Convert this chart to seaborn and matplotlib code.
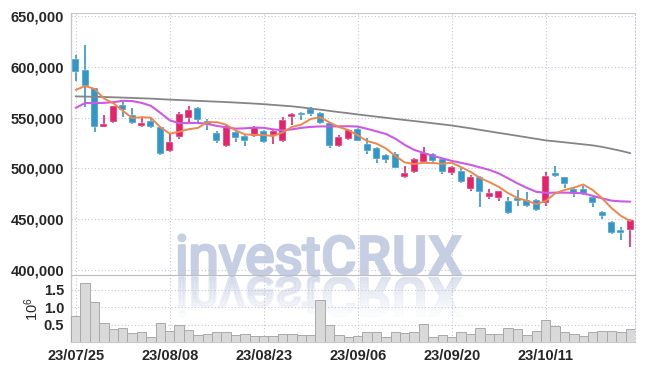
import numpy as np
import pandas as pd
import matplotlib
matplotlib.use("Agg")
import matplotlib.pyplot as plt
import seaborn as sns
from matplotlib.textpath import TextPath
from matplotlib.patches import PathPatch
from matplotlib.path import Path
from matplotlib.font_manager import FontProperties, fontManager
from matplotlib.transforms import Affine2D, IdentityTransform, Bbox
from matplotlib.ticker import FuncFormatter

# ---------------- data ----------------
dates = ["23/07/25", "23/07/26", "23/07/27", "23/07/28", "23/07/31",
         "23/08/01", "23/08/02", "23/08/03", "23/08/04", "23/08/07",
         "23/08/08", "23/08/09", "23/08/10", "23/08/11", "23/08/14",
         "23/08/16", "23/08/17", "23/08/18", "23/08/21", "23/08/22",
         "23/08/23", "23/08/24", "23/08/25", "23/08/28", "23/08/29",
         "23/08/30", "23/08/31", "23/09/01", "23/09/04", "23/09/05",
         "23/09/06", "23/09/07", "23/09/08", "23/09/11", "23/09/12",
         "23/09/13", "23/09/14", "23/09/15", "23/09/18", "23/09/19",
         "23/09/20", "23/09/21", "23/09/22", "23/09/25", "23/09/26",
         "23/09/27", "23/10/04", "23/10/05", "23/10/06", "23/10/10",
         "23/10/11", "23/10/12", "23/10/13", "23/10/16", "23/10/17",
         "23/10/18", "23/10/19", "23/10/20", "23/10/23", "23/10/24"]

open_ = [608000, 597000, 579000, 541000, 546000, 563000, 552500, 542000, 547000, 541000,
         517000, 531000, 550000, 560000, 546500, 535000, 522000, 536000, 532000, 532500,
         537000, 533500, 527500, 550500, 555000, 559000, 555000, 545000, 522000, 529500,
         538500, 524000, 520500, 513000, 514000, 491500, 496500, 506500, 514000, 509000,
         495500, 498000, 479500, 492000, 472000, 470500, 467500, 470500, 468500, 468500,
         465500, 495500, 491500, 480000, 480000, 472000, 457000, 447000, 439000, 439500]
high = [611500, 621500, 579000, 552500, 562000, 568000, 560000, 550000, 550000, 542000,
        535000, 556000, 561500, 561000, 549000, 537000, 543000, 537000, 534500, 542000,
        538000, 539000, 551000, 555000, 556000, 560500, 556000, 546000, 533000, 539000,
        540000, 530000, 521000, 514000, 516000, 502000, 510500, 521000, 515000, 510500,
        502000, 500000, 494000, 493000, 480000, 478000, 472000, 478500, 477000, 470000,
        496500, 502000, 492000, 481000, 483000, 472000, 458000, 448000, 442500, 450000]
low = [586000, 561000, 536000, 540500, 545000, 551000, 544000, 541000, 540000, 513000,
       516000, 529500, 546000, 544000, 537500, 525500, 521000, 526000, 522000, 531000,
       525000, 524000, 526000, 542500, 548000, 552000, 544000, 520500, 521000, 528000,
       527000, 514500, 505500, 505500, 500000, 491000, 495500, 505000, 505000, 495000,
       494000, 486000, 478000, 462000, 469500, 467500, 455000, 463000, 462500, 458000,
       463500, 491500, 481000, 472000, 474000, 462000, 450500, 435000, 429500, 423000]
close = [595000, 581000, 541000, 543500, 561500, 558000, 545000, 545000, 541000, 514500,
         526500, 554000, 557500, 547500, 542500, 527000, 541500, 530000, 527000, 540500,
         526000, 536500, 547500, 554000, 552500, 553500, 545000, 522000, 531500, 537500,
         527500, 517000, 509000, 508000, 500500, 495500, 509000, 515000, 507000, 496500,
         501000, 487000, 492000, 477000, 476000, 477500, 456000, 468000, 463500, 459500,
         493000, 493000, 485000, 475000, 475000, 465500, 453000, 436500, 436500, 449500]
# closes of the four sessions before the window (needed for the 5-day average)
prior_close = [562000, 555000, 590500, 585000]

ma20 = [559800, 564500, 564500, 564700, 565400, 566700, 566500, 564700, 561800, 554900,
        547500, 544700, 544800, 545000, 544000, 542000, 540600, 539300, 539600, 540300,
        540100, 538600, 537600, 538600, 540100, 541000, 541500, 541500, 541500, 541700,
        541300, 539100, 536600, 534100, 529400, 523300, 518400, 515400, 512500, 510000,
        507500, 505600, 503600, 501100, 498600, 495200, 490300, 485300, 480900, 477000,
        476000, 476200, 476200, 476000, 475500, 473000, 470500, 468300, 467600, 467300]
ma120 = [571100, 570900, 570700, 570500, 570200, 569900, 569600, 569200, 568900, 568400,
         567900, 567500, 567100, 566700, 566300, 565900, 565500, 565000, 564500, 564000,
         563400, 562700, 562000, 561300, 560300, 559100, 558000, 556800, 555600, 554500,
         553300, 552200, 551100, 550000, 548900, 547800, 546800, 545700, 544600, 543500,
         542400, 541000, 539600, 538100, 536600, 535100, 533700, 532200, 530700, 529200,
         527700, 526800, 525800, 524800, 523800, 522800, 521300, 519400, 517400, 515100]

volume_m = [0.74, 1.69, 1.16, 0.55, 0.38, 0.41, 0.26, 0.29, 0.15, 0.55,
            0.31, 0.48, 0.34, 0.20, 0.24, 0.28, 0.28, 0.21, 0.23, 0.18,
            0.18, 0.17, 0.23, 0.23, 0.20, 0.20, 1.22, 0.48, 0.20, 0.14,
            0.17, 0.28, 0.28, 0.14, 0.28, 0.25, 0.28, 0.51, 0.14, 0.20,
            0.13, 0.28, 0.23, 0.39, 0.23, 0.23, 0.39, 0.36, 0.20, 0.33,
            0.64, 0.45, 0.28, 0.23, 0.17, 0.30, 0.33, 0.33, 0.28, 0.36]

price_ticks = [400000, 450000, 500000, 550000, 600000, 650000]
vol_ticks = [0.5, 1.0, 1.5]
vol_tick_labels = ["0.5", "1.0", "1.5"]

# ---------------- derived ----------------
n = len(close)
idx = np.arange(n)
ma5 = pd.Series(prior_close + close).rolling(5).mean().to_numpy()[len(prior_close):]
df = pd.DataFrame({"i": idx, "open": open_, "high": high, "low": low, "close": close,
                   "vol": volume_m, "ma5": ma5, "ma20": ma20, "ma120": ma120})

# ---------------- style ----------------
sns.set_style("white")
avail = {f.name for f in fontManager.ttflist}
def pick(*names):
    for nm in names:
        if nm in avail:
            return nm
    return "DejaVu Sans"
LABEL_FONT = pick("Liberation Sans Narrow", "Liberation Sans", "DejaVu Sans")
WM_FONT = pick("Liberation Sans Narrow", "Roboto", "DejaVu Sans")
plt.rcParams["font.family"] = [LABEL_FONT, "DejaVu Sans"]
plt.rcParams["font.weight"] = "bold"

UP = "#e4236b"
DOWN = "#3196c8"
GRID = "#c3c6da"
SPINE = "#c8c8c8"
TXT = "#262626"
FS = 10.5

W, H = 645, 370
fig = plt.figure(figsize=(W / 100, H / 100), dpi=100)
fig.patch.set_facecolor("white")
L, R = 71, 635
ax = fig.add_axes([L / W, 1 - 275 / H, (R - L) / W, (275 - 13) / H])
axv = fig.add_axes([L / W, 1 - 342 / H, (R - L) / W, (342 - 276) / H])
for a in (ax, axv):
    a.set_facecolor("none")

# ---------------- candles ----------------
up = df["close"] >= df["open"]
cols = np.where(up, UP, DOWN)
body_lo = np.minimum(df["open"], df["close"])
body_h = np.maximum(np.abs(df["close"] - df["open"]), 900)
ax.vlines(df["i"], df["low"], df["high"], colors=cols, linewidth=1.2, zorder=2)
ax.bar(df["i"], body_h, bottom=body_lo, width=0.76, color=cols,
       edgecolor="white", linewidth=0.3, zorder=3)

# moving averages
sns.lineplot(data=df, x="i", y="ma120", ax=ax, color="#858585", linewidth=1.3, zorder=4)
sns.lineplot(data=df, x="i", y="ma20", ax=ax, color="#cc5ae6", linewidth=1.5, zorder=4)
sns.lineplot(data=df, x="i", y="ma5", ax=ax, color="#ee874b", linewidth=1.4, zorder=5)

ax.set_xlim(-0.5, n - 0.5)
ax.set_ylim(395000, 653300)
ax.set_yticks(price_ticks)
ax.yaxis.set_major_formatter(FuncFormatter(lambda v, p: f"{int(v):,}"))
ax.set_xticks(idx[::10])
ax.set_xticklabels([])
ax.set_xlabel("")
ax.set_ylabel("")

# ---------------- volume ----------------
sns.barplot(data=df, x="i", y="vol", ax=axv, color="#d9d9d9", saturation=1,
            width=1.0, edgecolor="#a9a9a9", linewidth=0.7, zorder=3)
axv.set_xlim(-0.5, n - 0.5)
axv.set_ylim(0, 1.9)
axv.set_yticks(vol_ticks)
axv.set_yticklabels(vol_tick_labels)
axv.set_xticks(idx[::10])
axv.set_xticklabels(dates[::10])
axv.set_xlabel("")
axv.set_ylabel(r"$\mathregular{10^{6}}$", fontsize=FS, color=TXT, rotation=90,
               fontweight="normal")
axv.yaxis.set_label_coords(-30 / (R - L), 0.5)

for a in (ax, axv):
    a.grid(True, color=GRID, linestyle=(0, (1, 2)), linewidth=0.8)
    a.set_axisbelow(True)
    a.tick_params(length=0, labelsize=FS, labelcolor=TXT, pad=5)
    a.spines["left"].set_color(SPINE)
    a.spines["left"].set_linewidth(1.0)
    a.spines["right"].set_color(GRID)
    a.spines["right"].set_linestyle((0, (1, 2)))
    a.spines["right"].set_linewidth(0.8)
ax.spines["top"].set_color(SPINE)
ax.spines["bottom"].set_color("#bdbdbd")
axv.spines["top"].set_visible(False)
axv.spines["bottom"].set_color(SPINE)

# ---------------- watermark ----------------
fp_n = FontProperties(family=WM_FONT, weight="normal")
fp_b = FontProperties(family=WM_FONT, weight="bold")
p1 = TextPath((0, 0), "invest", size=100, prop=fp_n)
w1 = p1.get_extents().x1
p2 = TextPath((w1 + 4, 0), "CRUX", size=100, prop=fp_b)
cp = Path.make_compound_path(p1, p2)
ext = cp.get_extents()
cap = p2.get_extents().y1
x_left, x_right, base_y, cap_px = 179, 462, 275, 40
sx = (x_right - x_left) / (ext.x1 - ext.x0)
sy = cap_px / cap
WMC = "#c6cee4"
tr_main = Affine2D().translate(-ext.x0, 0).scale(sx, sy).translate(x_left, H - base_y)
for pth, lw in ((p1, 2.2), (p2, 0.6)):
    fig.add_artist(PathPatch(tr_main.transform_path(pth), facecolor=WMC, edgecolor=WMC,
                             linewidth=lw, joinstyle="round",
                             transform=IdentityTransform(), zorder=-2))

tr_ref = Affine2D().translate(-ext.x0, 0).scale(sx, -sy).translate(x_left, H - base_y - 2)
nb = 12
band = 3.6
for k in range(nb):
    y1 = H - base_y - 2 - k * band
    y0 = y1 - band
    for pth, lw in ((p1, 2.2), (p2, 0.6)):
        pp = PathPatch(tr_ref.transform_path(pth), facecolor="#d3d9ea", edgecolor="#d3d9ea",
                       linewidth=lw, alpha=0.75 * (1 - k / nb) ** 1.3,
                       transform=IdentityTransform(), zorder=-2)
        pp.set_clip_box(Bbox.from_extents(0, y0, W, y1))
        fig.add_artist(pp)

fig.savefig("out.png", dpi=100, facecolor="white")
